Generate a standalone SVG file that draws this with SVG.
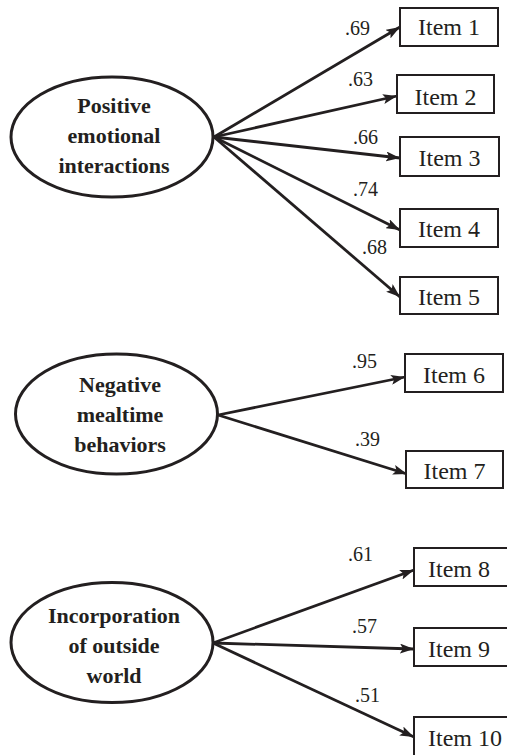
<svg xmlns="http://www.w3.org/2000/svg" width="507" height="755" viewBox="0 0 507 755">
<style>
.lat{fill:#fff;stroke:#231f20;stroke-width:3}
.box{fill:#fff;stroke:#231f20;stroke-width:2}
.lt{font-family:"Liberation Serif",serif;font-weight:bold;font-size:22px;fill:#231f20;text-anchor:middle}
.it{font-family:"Liberation Serif",serif;font-size:24px;fill:#231f20}
.wt{font-family:"Liberation Serif",serif;font-size:20px;fill:#231f20}
.c line{stroke:#231f20;stroke-width:2.8;marker-end:url(#ah)}
</style>
<defs>
<marker id="ah" markerUnits="userSpaceOnUse" viewBox="0 0 14 10" refX="14" refY="5" markerWidth="14" markerHeight="10" orient="auto">
<path d="M0,0 L14,5 L0,10 L3,5 Z" fill="#231f20"/>
</marker>
</defs>
<rect width="507" height="755" fill="#fff"/>
<g id="connectors" class="c">
<line x1="214" y1="137" x2="400" y2="27"/>
<line x1="214" y1="137" x2="397" y2="96"/>
<line x1="214" y1="137" x2="400" y2="158"/>
<line x1="214" y1="137" x2="400" y2="230"/>
<line x1="214" y1="137" x2="400" y2="297"/>
<line x1="218" y1="415" x2="405" y2="377"/>
<line x1="218" y1="415" x2="407" y2="474"/>
<line x1="213" y1="643" x2="414" y2="570"/>
<line x1="213" y1="643" x2="414" y2="649"/>
<line x1="213" y1="643" x2="414" y2="737"/>
</g>
<g id="weights" class="wt">
<text x="345" y="35">.69</text>
<text x="348" y="86">.63</text>
<text x="353" y="144">.66</text>
<text x="353" y="196">.74</text>
<text x="362" y="254">.68</text>
<text x="352" y="368">.95</text>
<text x="355" y="446">.39</text>
<text x="348" y="561">.61</text>
<text x="352" y="633">.57</text>
<text x="355" y="702">.51</text>
</g>
<g id="positive">
<ellipse class="lat" cx="112" cy="137" rx="101" ry="60"/>
<text class="lt" x="114" y="113">Positive</text>
<text class="lt" x="114" y="143">emotional</text>
<text class="lt" x="114" y="173">interactions</text>
</g>
<g id="negative">
<ellipse class="lat" cx="116.5" cy="414" rx="101" ry="60"/>
<text class="lt" x="120" y="392">Negative</text>
<text class="lt" x="120" y="422">mealtime</text>
<text class="lt" x="120" y="452">behaviors</text>
</g>
<g id="incorporation">
<ellipse class="lat" cx="112" cy="642.5" rx="101" ry="60"/>
<text class="lt" x="114" y="623">Incorporation</text>
<text class="lt" x="114" y="653">of outside</text>
<text class="lt" x="114" y="683">world</text>
</g>
<g id="item1"><rect class="box" x="400" y="8" width="98" height="38"/><text class="it" x="449" y="35" text-anchor="middle">Item 1</text></g>
<g id="item2"><rect class="box" x="397" y="75" width="97" height="38"/><text class="it" x="445.5" y="105" text-anchor="middle">Item 2</text></g>
<g id="item3"><rect class="box" x="400" y="137" width="99" height="39"/><text class="it" x="449.5" y="166" text-anchor="middle">Item 3</text></g>
<g id="item4"><rect class="box" x="400" y="209" width="98" height="38"/><text class="it" x="449" y="237" text-anchor="middle">Item 4</text></g>
<g id="item5"><rect class="box" x="400" y="277" width="98" height="37"/><text class="it" x="449" y="305" text-anchor="middle">Item 5</text></g>
<g id="item6"><rect class="box" x="405" y="354" width="98" height="38"/><text class="it" x="454" y="383" text-anchor="middle">Item 6</text></g>
<g id="item7"><rect class="box" x="406" y="451" width="97" height="37"/><text class="it" x="454.5" y="479" text-anchor="middle">Item 7</text></g>
<g id="item8"><rect class="box" x="414" y="548" width="110" height="38"/><text class="it" x="428" y="577">Item 8</text></g>
<g id="item9"><rect class="box" x="414" y="628" width="110" height="38"/><text class="it" x="428" y="657">Item 9</text></g>
<g id="item10"><rect class="box" x="414" y="717" width="110" height="40"/><text class="it" x="428" y="746">Item 10</text></g>
</svg>
